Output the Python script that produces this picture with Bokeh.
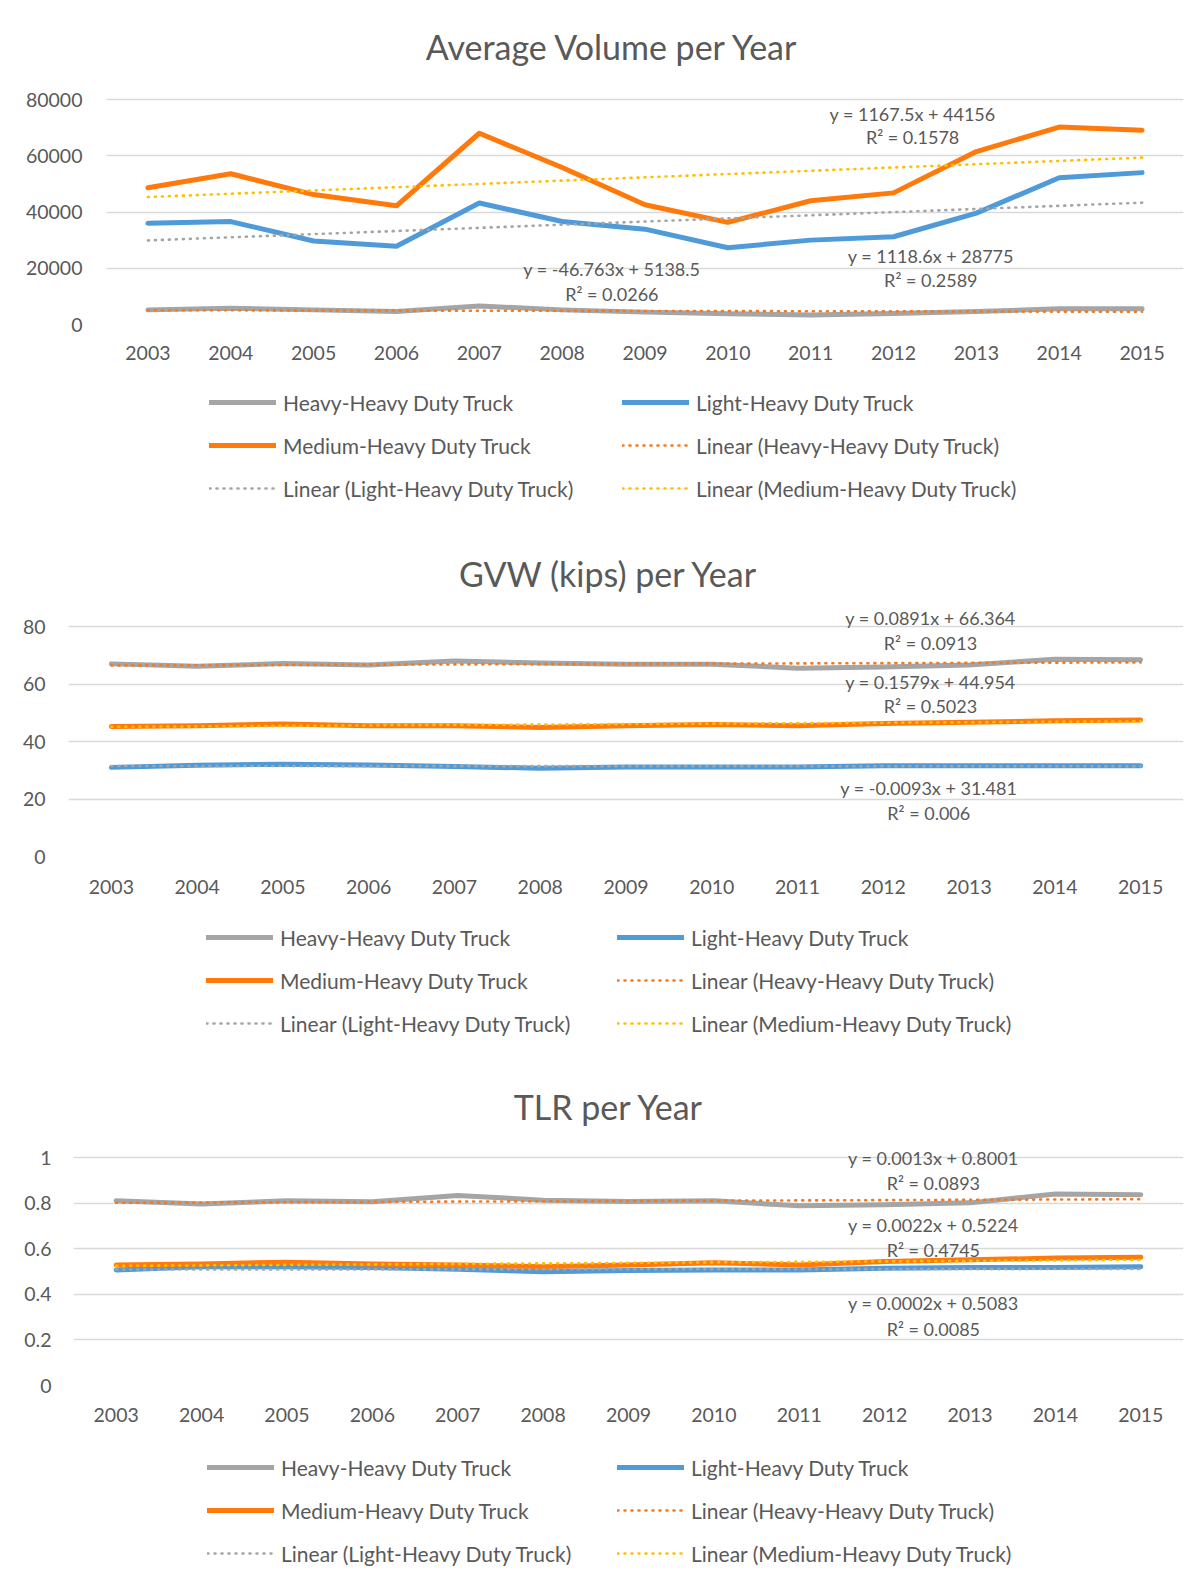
from bokeh.plotting import figure
from bokeh.models import (Range1d, FixedTicker, Legend, LegendItem, Label,
                          BasicTickFormatter)
from bokeh.layouts import column
from bokeh.embed import file_html
from bokeh.resources import INLINE

# ---------------- data ----------------
years = ["2003", "2004", "2005", "2006", "2007", "2008", "2009",
         "2010", "2011", "2012", "2013", "2014", "2015"]
series_names = ["Heavy-Heavy Duty Truck", "Light-Heavy Duty Truck", "Medium-Heavy Duty Truck"]

vol_heavy = [5200, 5800, 5200, 4600, 6600, 5200, 4400, 3800, 3400, 3900, 4600, 5600, 5600]
vol_light = [36000, 36600, 29700, 27800, 43200, 36600, 33900, 27300, 30000, 31200, 39600, 52200, 54000]
vol_medium = [48600, 53600, 46200, 42200, 68000, 55800, 42600, 36300, 44000, 46800, 61500, 70200, 69100]
vol_slope = [-46.763, 1118.6, 1167.5]
vol_intercept = [5138.5, 28775, 44156]
vol_r2 = ["0.0266", "0.2589", "0.1578"]
vol_yticks = [0, 20000, 40000, 60000, 80000]
vol_ylabels = ["0", "20000", "40000", "60000", "80000"]

gvw_heavy = [67.0, 66.2, 67.1, 66.6, 68.0, 67.3, 66.9, 66.9, 65.5, 65.9, 66.6, 68.6, 68.4]
gvw_light = [31.0, 31.7, 32.1, 31.8, 31.3, 30.7, 31.1, 31.1, 31.1, 31.6, 31.6, 31.6, 31.6]
gvw_medium = [45.2, 45.5, 46.1, 45.5, 45.5, 44.9, 45.5, 45.9, 45.5, 46.3, 46.7, 47.2, 47.5]
gvw_slope = [0.0891, -0.0093, 0.1579]
gvw_intercept = [66.364, 31.481, 44.954]
gvw_r2 = ["0.0913", "0.006", "0.5023"]
gvw_yticks = [0, 20, 40, 60, 80]
gvw_ylabels = ["0", "20", "40", "60", "80"]

tlr_heavy = [0.810, 0.796, 0.810, 0.806, 0.833, 0.813, 0.807, 0.810, 0.788, 0.793, 0.801, 0.840, 0.837]
tlr_light = [0.507, 0.521, 0.521, 0.517, 0.510, 0.499, 0.504, 0.507, 0.507, 0.514, 0.517, 0.517, 0.521]
tlr_medium = [0.529, 0.533, 0.541, 0.533, 0.529, 0.521, 0.529, 0.538, 0.529, 0.544, 0.551, 0.559, 0.563]
tlr_slope = [0.0013, 0.0002, 0.0022]
tlr_intercept = [0.8001, 0.5083, 0.5224]
tlr_r2 = ["0.0893", "0.0085", "0.4745"]
tlr_yticks = [0, 0.2, 0.4, 0.6, 0.8, 1]
tlr_ylabels = ["0", "0.2", "0.4", "0.6", "0.8", "1"]

# hidden anchor for legend-only renderers (outside the legend plot's range)
legend_anchor_x = [2, 3]
legend_anchor_y = [2, 3]

# ---------------- style ----------------
FONT = "Lato"
TXT = "#595959"
GRID = "#D9D9D9"
C_HEAVY = "#A5A5A5"
C_LIGHT = "#4F9BDA"
C_MED = "#FF7A0A"
T_HEAVY = "#F47A20"
T_LIGHT = "#A5A5A5"
T_MED = "#FFC000"
W = 1196
EXT = 75  # px of extra frame above the top gridline (room for title / labels)

x_idx = list(range(1, len(years) + 1))

SERIES_STYLE = dict(line_width=5, line_join="round", line_cap="round")
TREND_STYLE = dict(line_width=2.6, line_dash="1 6", line_cap="round")


def make_main(title, heavy, light, medium, slopes, intercepts, r2s, yticks, ylabels, ymax,
              height, mb_left, mb_top, x_standoff, y_standoff, title_pos, eq_pos):
    mb_bottom = 50
    frame_h = height - mb_top - mb_bottom
    y_end = ymax * (frame_h + EXT) / frame_h
    p = figure(width=W, height=height, output_backend="svg", toolbar_location=None,
               x_range=Range1d(0.5, len(years) + 0.5), y_range=Range1d(0, y_end),
               min_border_left=mb_left, min_border_right=13, min_border_top=mb_top - EXT,
               min_border_bottom=mb_bottom, background_fill_color="white",
               border_fill_color="white", outline_line_color=None)

    # title (inside the extended frame area, above the top gridline)
    p.add_layout(Label(x=title_pos[0], y=title_pos[1], text=title, text_align="center",
                       text_baseline="middle", text_font=FONT, text_font_size="34px",
                       text_color=TXT))

    # axes
    p.xaxis.ticker = FixedTicker(ticks=x_idx)
    p.xaxis.major_label_overrides = {i: y for i, y in zip(x_idx, years)}
    p.yaxis.ticker = FixedTicker(ticks=yticks)
    p.yaxis.formatter = BasicTickFormatter(use_scientific=False)
    p.yaxis.major_label_overrides = {v: s for v, s in zip(yticks, ylabels)}
    for ax in (p.xaxis[0], p.yaxis[0]):
        ax.axis_line_color = None
        ax.major_tick_line_color = None
        ax.minor_tick_line_color = None
        ax.major_label_text_font = FONT
        ax.major_label_text_font_size = "19.5px"
        ax.major_label_text_color = TXT
    p.xaxis.major_label_standoff = x_standoff
    p.yaxis.major_label_standoff = y_standoff
    p.xgrid.grid_line_color = None
    p.ygrid.ticker = FixedTicker(ticks=yticks)
    p.ygrid.grid_line_color = GRID
    p.ygrid.grid_line_width = 1.5

    # series
    p.line(x_idx, heavy, color=C_HEAVY, **SERIES_STYLE)
    p.line(x_idx, light, color=C_LIGHT, **SERIES_STYLE)
    p.line(x_idx, medium, color=C_MED, **SERIES_STYLE)

    # linear trend lines (from the printed equations)
    for s, b, c in zip(slopes, intercepts, [T_HEAVY, T_LIGHT, T_MED]):
        ty = [s * x + b for x in x_idx]
        p.line(x_idx, ty, color=c, **TREND_STYLE)

    # equation labels
    for s, b, r2, (lx, ly1, ly2) in zip(slopes, intercepts, r2s, eq_pos):
        p.add_layout(Label(x=lx, y=ly1, text=f"y = {s:g}x + {b:g}", text_align="center",
                           text_baseline="middle", text_font=FONT, text_font_size="18px",
                           text_color=TXT))
        p.add_layout(Label(x=lx, y=ly2, text=f"R² = {r2}", text_align="center",
                           text_baseline="middle", text_font=FONT, text_font_size="18px",
                           text_color=TXT))
    return p


def make_legend(height, mb_left, x1, x2, vy):
    q = figure(width=W, height=height, output_backend="svg", toolbar_location=None,
               x_range=Range1d(0, 1), y_range=Range1d(0, 1),
               min_border_left=mb_left, min_border_right=13, min_border_top=0,
               min_border_bottom=0, background_fill_color="white",
               border_fill_color="white", outline_line_color=None)
    q.axis.visible = False
    q.grid.grid_line_color = None
    # legend-only renderers carrying each entry's style (drawn outside the range)
    ax_, ay_ = legend_anchor_x, legend_anchor_y
    h = q.line(ax_, ay_, color=C_HEAVY, **SERIES_STYLE)
    l = q.line(ax_, ay_, color=C_LIGHT, **SERIES_STYLE)
    m = q.line(ax_, ay_, color=C_MED, **SERIES_STYLE)
    th = q.line(ax_, ay_, color=T_HEAVY, **TREND_STYLE)
    tl = q.line(ax_, ay_, color=T_LIGHT, **TREND_STYLE)
    tm = q.line(ax_, ay_, color=T_MED, **TREND_STYLE)
    common = dict(margin=0, padding=0, border_line_color=None, background_fill_alpha=0,
                  label_text_font=FONT, label_text_font_size="21px", label_text_color=TXT,
                  glyph_width=67, glyph_height=26, label_height=26, label_standoff=7,
                  spacing=17)
    leg1 = Legend(items=[LegendItem(label=series_names[0], renderers=[h]),
                         LegendItem(label=series_names[2], renderers=[m]),
                         LegendItem(label=f"Linear ({series_names[1]})", renderers=[tl])],
                  location=(x1, vy), **common)
    leg2 = Legend(items=[LegendItem(label=series_names[1], renderers=[l]),
                         LegendItem(label=f"Linear ({series_names[0]})", renderers=[th]),
                         LegendItem(label=f"Linear ({series_names[2]})", renderers=[tm])],
                  location=(x2, vy), **common)
    q.add_layout(leg1)
    q.add_layout(leg2)
    return q


p1 = make_main("Average Volume per Year", vol_heavy, vol_light, vol_medium,
               vol_slope, vol_intercept, vol_r2, vol_yticks, vol_ylabels, 80000,
               height=374, mb_left=106, mb_top=99, x_standoff=15, y_standoff=18,
               title_pos=(6.61, 98844),
               eq_pos=[(6.60, 19560, 10670), (10.45, 24530, 16000), (10.23, 75000, 66500)])
l1 = make_legend(157, 106, 103, 516, 30)

p2 = make_main("GVW (kips) per Year", gvw_heavy, gvw_light, gvw_medium,
               gvw_slope, gvw_intercept, gvw_r2, gvw_yticks, gvw_ylabels, 80,
               height=375, mb_left=68, mb_top=95, x_standoff=17, y_standoff=17,
               title_pos=(6.80, 98.43),
               eq_pos=[(10.55, 82.8, 74.1), (10.53, 23.7, 15.0), (10.55, 60.7, 52.2)])
l2 = make_legend(152, 68, 138, 549, 22)

p3 = make_main("TLR per Year", tlr_heavy, tlr_light, tlr_medium,
               tlr_slope, tlr_intercept, tlr_r2, tlr_yticks, tlr_ylabels, 1,
               height=377, mb_left=73, mb_top=99, x_standoff=16, y_standoff=16,
               title_pos=(6.77, 1.2237),
               eq_pos=[(10.57, 1.0, 0.890), (10.57, 0.360, 0.250), (10.57, 0.706, 0.596)])
l3 = make_legend(150, 73, 134, 544, 19)

# separate roots so each panel keeps its own plot-area alignment
roots = [column(p1, l1, spacing=0), column(p2, l2, spacing=0), column(p3, l3, spacing=0)]
open("out.html", "w").write(file_html(roots, INLINE))
